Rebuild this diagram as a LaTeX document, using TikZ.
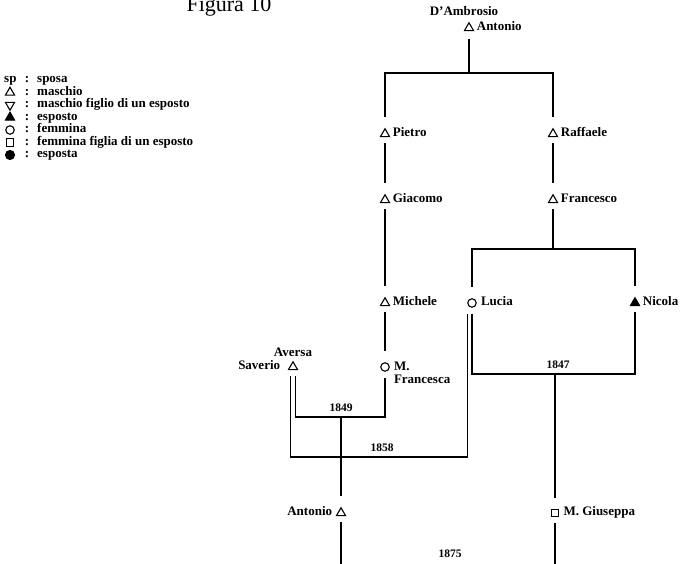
\documentclass[tikz,border=0pt]{standalone}
\usepackage{fontspec}
\setmainfont{Liberation Serif}
\usetikzlibrary{calc,shapes.geometric}

\tikzset{
  kin/.style={line width=1.3pt},
  descent/.style={kin, shorten <=6pt, shorten >=11pt},
  sibbar/.style={kin, shorten <=11pt, shorten >=11pt},
  wed/.style={kin, shorten <=6pt, shorten >=6pt},
  sym/.style={inner sep=0pt, line width=1.1pt},
  male/.style={sym, draw, regular polygon, regular polygon sides=3, minimum size=10.5pt},
  malechild/.style={male, shape border rotate=180},
  exposto/.style={male, fill},
  female/.style={sym, draw, circle, minimum size=8.5pt},
  femalechild/.style={sym, draw, rectangle, minimum size=7.5pt},
  esposta/.style={sym, draw, fill, circle, minimum size=9pt},
  key/.style={anchor=west, inner sep=0pt, text height=1.5ex, text depth=.25ex},
  year/.style={font=\bfseries\fontsize{11.5}{11.5}\selectfont},
  every label/.style={inner sep=0pt, label distance=4pt, text height=1.5ex, text depth=.25ex}
}

\begin{document}
\begin{tikzpicture}[x=1pt, y=-1pt, font=\bfseries\fontsize{13}{13}\selectfont]
   \clip (0,0) rectangle (680,564);

   \node[font=\mdseries\fontsize{22}{24}\selectfont, anchor=base] (title) at (229,12) {Figura 10};

   % legenda
   \node[key] (lsp) at ($0*(0,12.5)+(4,80)$) {sp};
   \node[male] (lmale) at ($1*(0,12.5)+(10,80)$) {};
   \node[malechild] (lmalechild) at ($2*(0,12.5)+(10,80)$) {};
   \node[exposto] (lexposto) at ($3*(0,12.5)+(10,80)$) {};
   \node[female] (lfemale) at ($4*(0,12.5)+(10,80)$) {};
   \node[femalechild] (lfemalechild) at ($5*(0,12.5)+(10,80)$) {};
   \node[esposta] (lesposta) at ($6*(0,12.5)+(10,80)$) {};
   \foreach \i in {0,...,6}
      \node[key, anchor=center] (colon\i) at ($\i*(0,12.5)+(27,80)$) {:};
   \node[key] at ($0*(0,12.5)+(37,80)$) {sposa};
   \node[key] at ($1*(0,12.5)+(37,80)$) {maschio};
   \node[key] at ($2*(0,12.5)+(37,80)$) {maschio figlio di un esposto};
   \node[key] at ($3*(0,12.5)+(37,80)$) {esposto};
   \node[key] at ($4*(0,12.5)+(37,80)$) {femmina};
   \node[key] at ($5*(0,12.5)+(37,80)$) {femmina figlia di un esposto};
   \node[key] at ($6*(0,12.5)+(37,80)$) {esposta};

   % persone
   \node[male, label=right:Antonio, label={[xshift=-5pt, label distance=5pt]above:D'Ambrosio}] (antonioA) at (469,28) {};
   \node[male, label=right:Pietro] (pietro) at (385,134) {};
   \node[male, label=right:Raffaele] (raffaele) at (553,134) {};
   \node[male, label=right:Giacomo] (giacomo) at (385,200) {};
   \node[male, label=right:Francesco] (francesco) at (553,200) {};
   \node[male, label=right:Michele] (michele) at (385,303) {};
   \node[female, label=right:Lucia] (lucia) at (472,303) {};
   \node[exposto, label=right:Nicola] (nicola) at (635,303) {};
   \node[female, label={[anchor=north west, align=left, yshift=5.5pt, text height=, text depth=]right:M.\\Francesca}] (francesca) at (385,367) {};
   \node[male, label={[label distance=9pt]left:Saverio}, label={[label distance=3pt]above:Aversa}] (saverio) at (293,367) {};
   \node[male, label={[label distance=5pt]left:Antonio}] (antonioB) at (341,513) {};
   \node[femalechild, label=right:M. Giuseppa] (giuseppa) at (555,513) {};

   % sbarre
   \coordinate (sibs) at (469,73);
   \coordinate (sibsF) at (553,249);
   \coordinate[label={[year, label distance=4pt]above:1849}] (m1849) at (341,417);
   \coordinate[label={[year, label distance=4pt]above:1858}] (m1858) at (382,457);
   \coordinate[label={[year, label distance=4pt, xshift=3pt]above:1847}] (m1847) at (555,374);
   \coordinate[label={[year, label distance=7pt]above:1875}] (m1875) at (450,566);

   % fratelli
   \draw[kin, shorten <=8pt] (antonioA) -- (sibs);
   \draw[sibbar] (pietro) |- (sibs) -| (raffaele);
   \draw[descent] (pietro) -- (giacomo);
   \draw[descent] (giacomo) -- (michele);
   \draw[descent] (michele) -- (francesca);
   \draw[descent] (raffaele) -- (francesco);
   \draw[kin, shorten <=6pt] (francesco) -- (sibsF);
   \draw[sibbar] (lucia) |- (sibsF) -| (nicola);

   % matrimoni
   \draw[wed] ([xshift=2.5pt]saverio.south) |- (m1849) -| (francesca);
   \draw[wed] ([xshift=-2.5pt]saverio.south) |- (m1858) -| ([xshift=-4.5pt]lucia.south);
   \draw[wed] (lucia.south) |- (m1847) -| (nicola);
   \draw[wed] (antonioB) |- (m1875) -| (giuseppa);

   % figli
   \draw[kin, shorten >=11pt] (m1849) -- (antonioB);
   \draw[kin, shorten >=11pt] (m1847) -- (giuseppa);
\end{tikzpicture}
\end{document}
